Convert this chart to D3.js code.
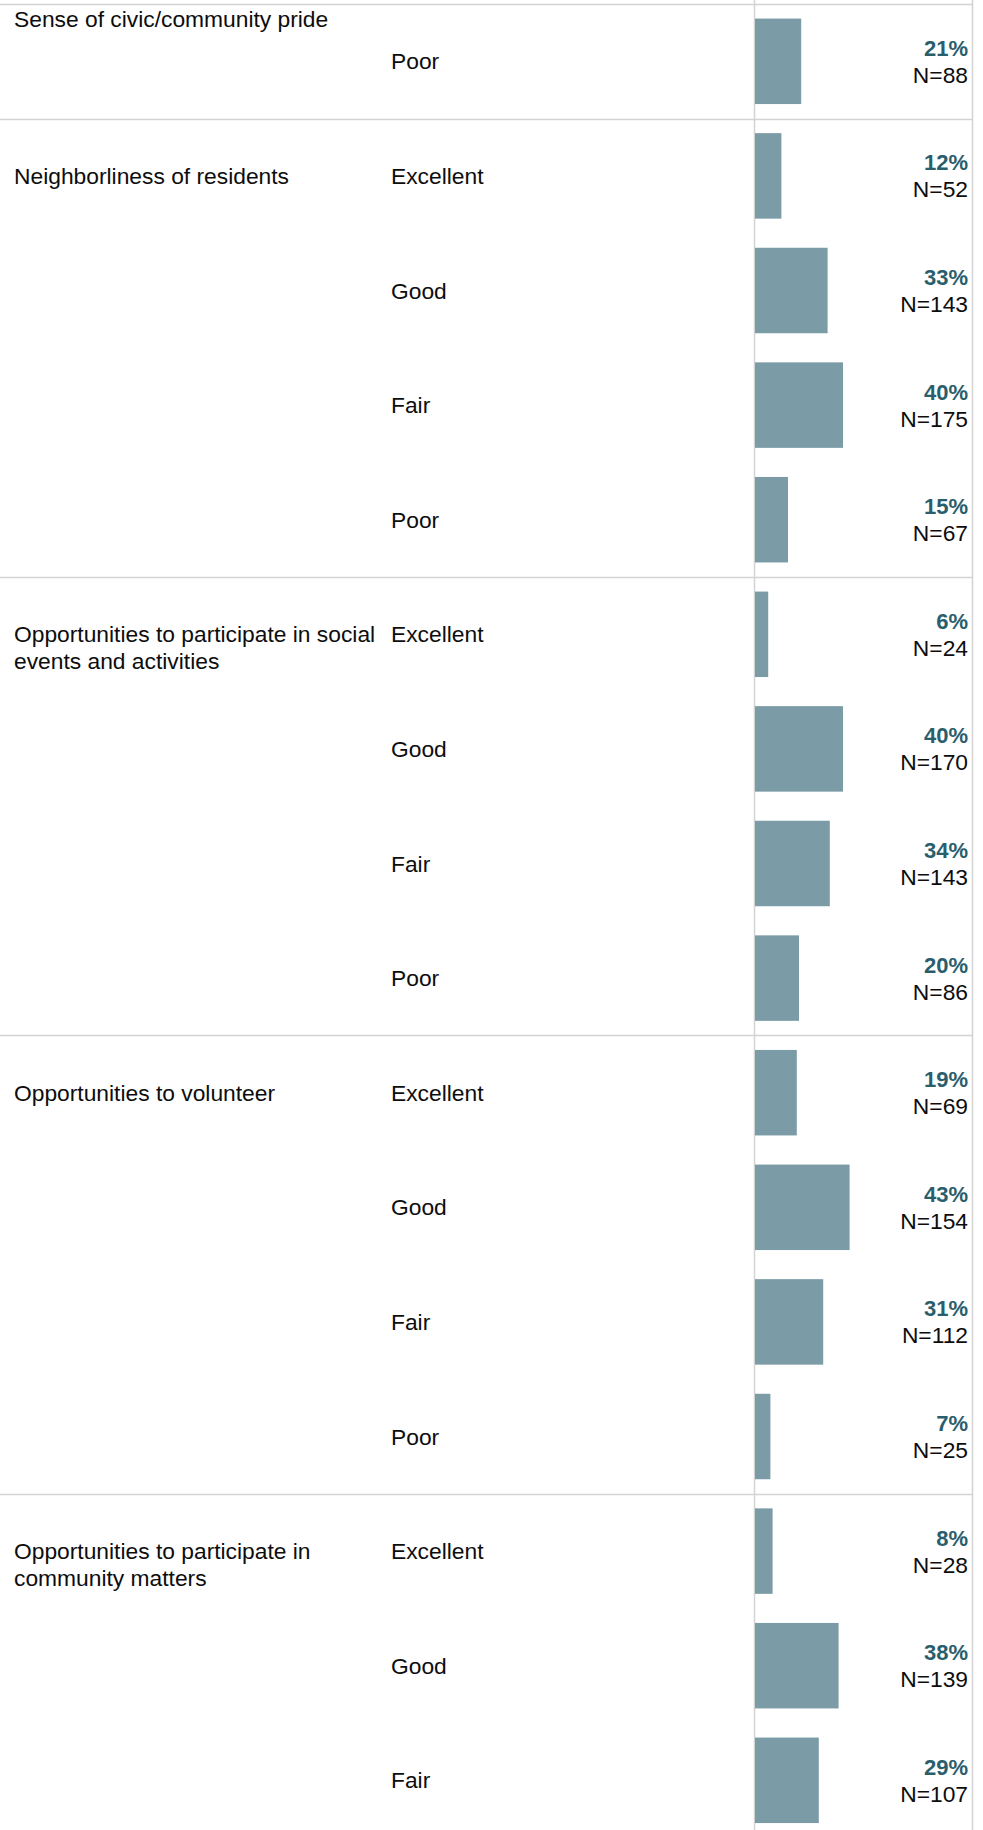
<!DOCTYPE html>
<html>
<head>
<meta charset="utf-8">
<script src="https://cdn.jsdelivr.net/npm/d3@7/dist/d3.min.js"></script>
<style>
  html, body { margin: 0; padding: 0; background: #fff; }
  svg { display: block; font-family: "Liberation Sans", Arial, sans-serif; }
</style>
</head>
<body>
<script>
// ---- data ----
const groupNames = [
  "Sense of civic/community pride",
  "Neighborliness of residents",
  "Opportunities to participate in social events and activities",
  "Opportunities to volunteer",
  "Opportunities to participate in community matters"
];
const groupLines = [
  ["Sense of civic/community pride"],
  ["Neighborliness of residents"],
  ["Opportunities to participate in social", "events and activities"],
  ["Opportunities to volunteer"],
  ["Opportunities to participate in", "community matters"]
];
const rowGroup = [0, 1, 1, 1, 1, 2, 2, 2, 2, 3, 3, 3, 3, 4, 4, 4];
const rowRating = ["Poor",
  "Excellent", "Good", "Fair", "Poor",
  "Excellent", "Good", "Fair", "Poor",
  "Excellent", "Good", "Fair", "Poor",
  "Excellent", "Good", "Fair"];
const rowPercent = [21, 12, 33, 40, 15, 6, 40, 34, 20, 19, 43, 31, 7, 8, 38, 29];
const rowN = [88, 52, 143, 175, 67, 24, 170, 143, 86, 69, 154, 112, 25, 28, 139, 107];

// ---- layout ----
const W = 983, H = 1830;
const svg = d3.select("body").append("svg").attr("width", W).attr("height", H);

const rows = rowRating.map((r, i) => ({ i, g: rowGroup[i], rating: r, pct: rowPercent[i], n: rowN[i] }));

const step = 114.6;
const y = d3.scaleBand()
  .domain(rows.map(d => d.i))
  .range([4, 4 + step * rows.length])
  .paddingInner(0.254)
  .paddingOuter(0.127);

const x = d3.scaleLinear().domain([0, 100]).range([754, 974]);

const lineColor = "#d3d3d3";
const barColor = "#7b9ca6";
const pctColor = "#2a5e6c";
const labelSize = 22.8;
const pctSize = 22;

// group separators (top of first row of each group) + top border
const sepYs = [4];
rows.forEach((d, k) => {
  if (k > 0 && rows[k - 1].g !== d.g) sepYs.push(y(d.i) - y.step() * y.paddingInner() / 2);
});
svg.append("g").selectAll("line").data(sepYs).join("line")
  .attr("x1", 0).attr("x2", 972.5)
  .attr("y1", d => Math.round(d) + 0.5).attr("y2", d => Math.round(d) + 0.5)
  .attr("stroke", lineColor).attr("stroke-width", 1.5);

// vertical lines
svg.append("g").selectAll("line").data([754, 972]).join("line")
  .attr("x1", d => d + 0.5).attr("x2", d => d + 0.5)
  .attr("y1", 0).attr("y2", H)
  .attr("stroke", lineColor).attr("stroke-width", 1.5);

// bars
svg.append("g").selectAll("rect").data(rows).join("rect")
  .attr("x", x(0) + 1)
  .attr("y", d => y(d.i))
  .attr("width", d => x(d.pct) - x(0))
  .attr("height", y.bandwidth())
  .attr("fill", barColor);

const center = d => y(d.i) + y.bandwidth() / 2;

// rating labels
svg.append("g").selectAll("text").data(rows).join("text")
  .attr("x", 391)
  .attr("y", d => center(d) + 8)
  .attr("font-size", labelSize)
  .attr("fill", "#0d0d0d")
  .text(d => d.rating);

// percent labels
svg.append("g").selectAll("text").data(rows).join("text")
  .attr("x", 968)
  .attr("y", d => center(d) - 5.5)
  .attr("text-anchor", "end")
  .attr("font-size", pctSize)
  .attr("font-weight", "bold")
  .attr("fill", pctColor)
  .text(d => d.pct + "%");

// N labels
svg.append("g").selectAll("text").data(rows).join("text")
  .attr("x", 968)
  .attr("y", d => center(d) + 21.5)
  .attr("text-anchor", "end")
  .attr("font-size", labelSize)
  .attr("fill", "#0d0d0d")
  .text(d => "N=" + d.n);

// group labels: aligned with first visible row of each group (first group pinned to top)
const firstRows = groupNames.map((name, g) => rows.find(d => d.g === g));
const gl = svg.append("g").selectAll("text").data(firstRows).join("text")
  .attr("x", 14)
  .attr("y", (d, g) => g === 0 ? 26.7 : center(d) + 8)
  .attr("font-size", labelSize)
  .attr("fill", "#0d0d0d");
gl.selectAll("tspan").data(d => groupLines[d.g]).join("tspan")
  .attr("x", 14)
  .attr("dy", (t, k) => k === 0 ? 0 : 27)
  .text(t => t);
</script>
</body>
</html>
